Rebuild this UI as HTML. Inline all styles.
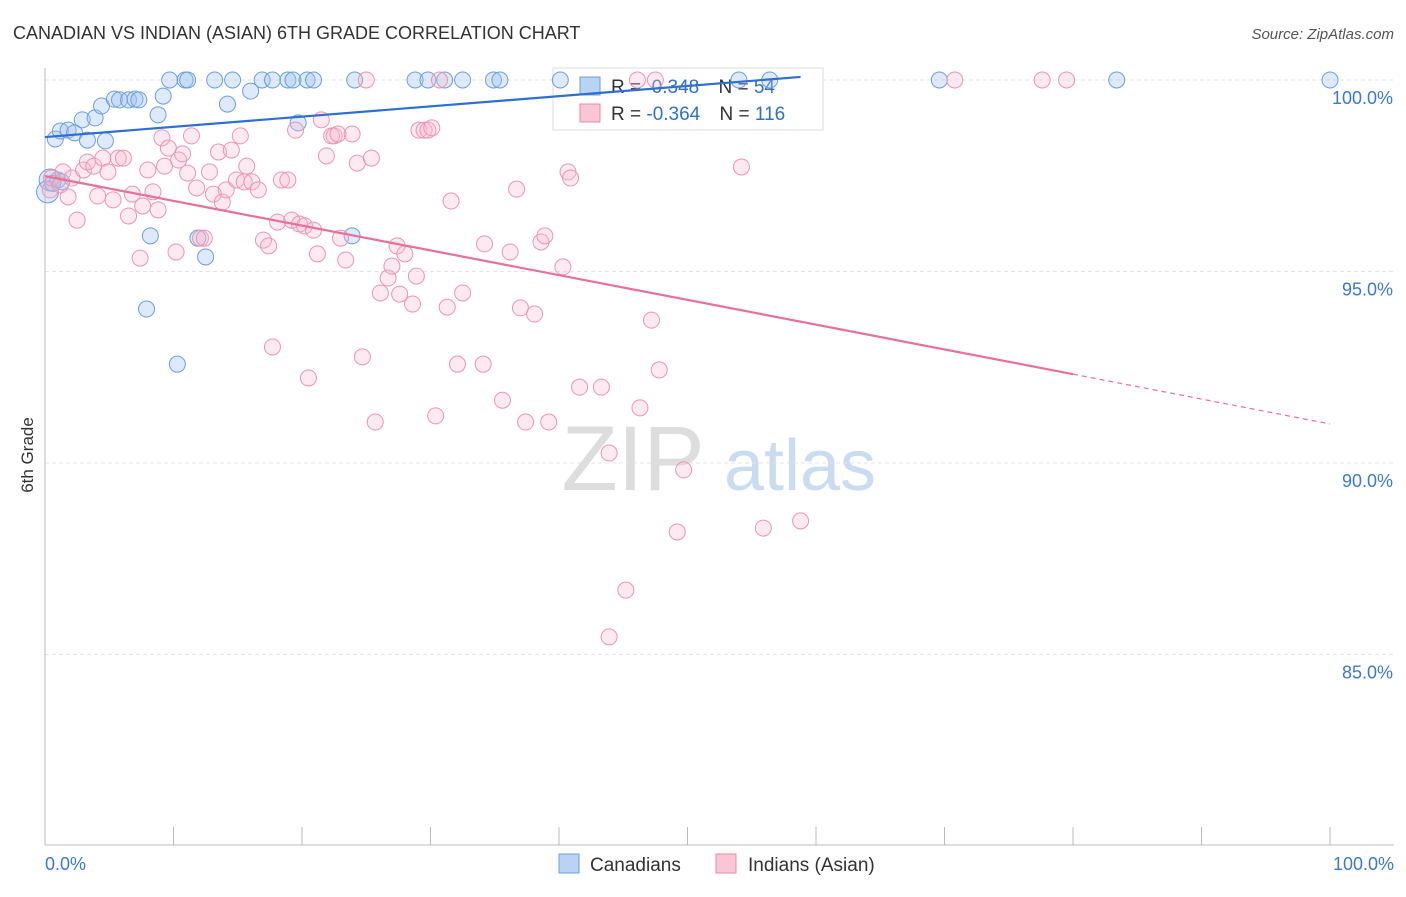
<!DOCTYPE html>
<html><head><meta charset="utf-8">
<style>
body{margin:0;background:#fff;font-family:"Liberation Sans",sans-serif;}
svg text{font-family:"Liberation Sans",sans-serif;}
</style></head>
<body>
<svg id="chart" width="1406" height="892" xmlns="http://www.w3.org/2000/svg">
<text x="13" y="39" font-size="18" fill="#333">CANADIAN VS INDIAN (ASIAN) 6TH GRADE CORRELATION CHART</text>
<text x="1394" y="39" font-size="15" fill="#555" font-style="italic" text-anchor="end">Source: ZipAtlas.com</text>
<text transform="translate(33,455) rotate(-90)" font-size="17" fill="#333" text-anchor="middle">6th Grade</text>
<g>
<text x="633" y="490" font-size="92" fill="#ddd" font-family="Liberation Serif" text-anchor="middle">ZIP</text>
<text x="800" y="490" font-size="72" fill="#c9dcf2" text-anchor="middle">atlas</text>
</g>
<g id="grid"></g><g id="axes"></g>
<g>
<rect x="553" y="68" width="270" height="62" fill="#fff" stroke="#ddd"/>
<rect x="580" y="77" width="20" height="18" fill="#b8d3f3" stroke="#6a9fe0"/>
<rect x="580" y="104" width="20" height="18" fill="#f9c6d6" stroke="#e88aa8"/>
<text x="611" y="93" font-size="19" fill="#333">R = <tspan fill="#2f6fd0">&#160;0.348</tspan>   <tspan dx="14">N = </tspan><tspan fill="#2f6fd0">54</tspan></text>
<text x="611" y="120" font-size="19" fill="#333">R = <tspan fill="#2f6fd0">-0.364</tspan>   <tspan dx="14">N = </tspan><tspan fill="#2f6fd0">116</tspan></text>
</g>
<g id="pts"></g><g id="trend"></g>
<g>
<rect x="559" y="854" width="20" height="19" fill="#b8d3f3" stroke="#6a9fe0"/>
<text x="590" y="871" font-size="19" fill="#333">Canadians</text>
<rect x="716" y="854" width="20" height="19" fill="#f9c6d6" stroke="#e88aa8"/>
<text x="748" y="871" font-size="19" fill="#333">Indians (Asian)</text>
</g>
</svg>
<script>
const yTicks=[100,95,90,85];
const xTickLabels=["0.0%","100.0%"];
const blueX=[9.7,10.9,11.1,13.2,14.6,16.9,17.7,18.9,19.3,20.4,20.9,24.1,28.8,29.8,31.1,32.5,34.9,35.4,40.1,54.0,56.4,69.6,83.4,100,0.8,1.2,1.8,2.3,2.9,3.9,3.3,4.4,4.7,5.4,5.8,6.5,7.0,7.3,8.8,9.2,14.2,16.0,19.7,8.2,11.9,12.5,23.9,7.9,10.3,0.4,0.2,0.6,1.0,1.3];
const blueY=[100,100,100,100,100,100,100,100,100,100,100,100,100,100,100,100,100,100,100,100,100,100,100,100,98.46,98.67,98.69,98.62,98.96,99.01,98.43,99.32,98.41,99.50,99.48,99.48,99.50,99.48,99.09,99.58,99.37,99.71,98.88,95.93,95.87,95.38,95.93,94.02,92.58,97.39,97.08,97.3,97.39,97.34];
const pinkX=[25.0,30.7,46.1,47.5,70.8,77.6,79.5,0.4,0.5,1.2,1.4,1.8,2.1,2.5,3.0,3.3,3.8,4.1,4.5,4.9,5.3,5.7,6.1,6.5,6.8,7.4,7.6,8.0,8.4,8.8,9.1,9.3,9.6,10.2,10.4,10.7,11.1,11.4,11.8,12.1,12.4,12.8,13.1,13.5,13.8,14.1,14.5,14.9,15.2,15.5,15.7,16.1,16.6,17.0,17.4,17.7,18.1,18.4,18.9,19.2,19.5,19.8,20.2,20.5,20.9,21.2,21.5,21.9,22.3,22.5,22.8,23.0,23.4,23.9,24.3,24.7,25.4,25.7,26.1,26.7,27.0,27.4,27.6,28.0,28.6,28.9,29.1,29.5,29.8,30.1,30.4,31.3,31.6,32.1,32.5,34.1,34.2,35.6,36.2,36.7,37.0,37.4,38.1,38.6,38.9,39.2,40.3,40.7,40.9,41.6,43.3,43.9,43.9,45.2,46.3,47.2,47.8,49.2,49.7,54.2,55.9,58.8];
const pinkY=[100,100,100,100,100,100,100,97.13,97.44,97.26,97.60,96.95,97.44,96.34,97.65,97.86,97.75,96.97,97.96,97.60,96.87,97.96,97.96,96.45,97.02,95.35,96.71,97.65,97.08,96.61,98.49,97.75,98.22,95.51,97.91,98.07,97.57,98.54,97.18,95.87,95.87,97.60,97.02,98.12,96.81,97.13,98.17,97.39,98.54,97.34,97.75,97.34,97.13,95.82,95.67,93.03,96.29,97.39,97.39,96.34,98.69,96.24,96.19,92.22,96.08,95.46,98.96,98.02,98.54,98.54,98.59,95.87,95.30,98.59,97.83,92.77,97.96,91.07,94.44,94.83,95.14,95.67,94.41,95.46,94.15,94.88,98.69,98.69,98.69,98.75,91.23,94.07,96.84,92.58,94.44,92.58,95.72,91.64,95.51,97.15,94.05,91.07,93.89,95.77,95.93,91.07,95.12,97.60,97.44,91.98,91.98,90.26,85.46,86.68,91.44,93.73,92.43,88.20,89.82,97.73,88.30,88.49];
const blueTrend=[[0,98.51],[58.8,100.08]];
const pinkTrend=[[0,97.49],[80,92.32]];
const pinkDash=[[80,92.32],[100,91.02]];
const NS="http://www.w3.org/2000/svg";
const sx=v=>45+v*12.85, sy=v=>80+(100-v)*38.3;
function mk(tag,attrs,parent){const e=document.createElementNS(NS,tag);for(const k in attrs)e.setAttribute(k,attrs[k]);parent.appendChild(e);return e;}
const grid=document.getElementById('grid'),axes=document.getElementById('axes'),pts=document.getElementById('pts'),tr=document.getElementById('trend');
yTicks.forEach(t=>{
 const l=mk('line',{x1:45,x2:1394,y1:sy(t),y2:sy(t),stroke:'#e4e4e4','stroke-dasharray':'4,3'},grid);
 
 
 const tx=mk('text',{x:1393,y:sy(t)+24,'font-size':18,fill:'#3b78d8','text-anchor':'end'},grid);
 tx.textContent=t.toFixed(1)+'%';
 
 
});
const la=mk('line',{x1:45,x2:45,y1:68,y2:845,stroke:'#bbb'},axes);


const lb=mk('line',{x1:45,x2:1394,y1:845,y2:845,stroke:'#bbb'},axes);


for(let i=0;i<=10;i++){
 const t=mk('line',{x1:sx(i*10),x2:sx(i*10),y1:827,y2:845,stroke:'#bbb'},axes);
 
 
}
[[0,'start',45],[100,'end',1394]].forEach((d,i)=>{
 const tx=mk('text',{x:d[2],y:870,'font-size':18,fill:'#3b78d8','text-anchor':d[1]},axes);
 tx.textContent=xTickLabels[i];
 
 
});
blueX.forEach((x,i)=>{
 const big=(i>=49&&i<=50);
 const c=mk('circle',{cx:sx(x),cy:sy(blueY[i]),r:big?11:8,fill:'rgba(160,196,240,0.35)',stroke:'#6a9fe0','stroke-width':1},pts);
 
 
});
pinkX.forEach((x,i)=>{
 const c=mk('circle',{cx:sx(x),cy:sy(pinkY[i]),r:8,fill:'rgba(248,185,206,0.3)',stroke:'#ec94b2','stroke-width':1},pts);
 
 
});
const bl=mk('line',{x1:sx(blueTrend[0][0]),y1:sy(blueTrend[0][1]),x2:sx(blueTrend[1][0]),y2:sy(blueTrend[1][1]),stroke:'#2d6fd6','stroke-width':2.2},tr);


const pl=mk('line',{x1:sx(pinkTrend[0][0]),y1:sy(pinkTrend[0][1]),x2:sx(pinkTrend[1][0]),y2:sy(pinkTrend[1][1]),stroke:'#e8709a','stroke-width':2.2},tr);


const pd=mk('line',{x1:sx(pinkDash[0][0]),y1:sy(pinkDash[0][1]),x2:sx(pinkDash[1][0]),y2:sy(pinkDash[1][1]),stroke:'#e8709a','stroke-width':1.2,'stroke-dasharray':'5,4'},tr);


</script>
</body></html>
